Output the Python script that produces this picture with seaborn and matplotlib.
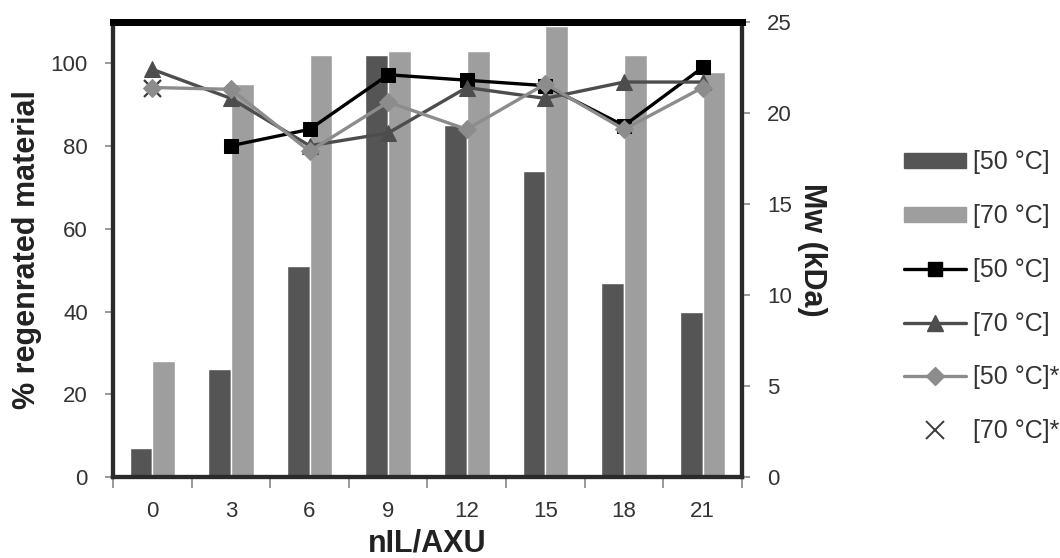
import numpy as np
import pandas as pd
import matplotlib
matplotlib.use("Agg")
import matplotlib.pyplot as plt
import seaborn as sns
from matplotlib.patches import Patch
from matplotlib.lines import Line2D

# === Data ===
nil = ["0", "3", "6", "9", "12", "15", "18", "21"]
regen_50 = [7, 26, 51, 102, 85, 74, 47, 40]         # % regenerated, 50 C
regen_70 = [28, 95, 102, 103, 103, 109, 102, 98]     # % regenerated, 70 C
mw_50 = [np.nan, 18.2, 19.1, 22.1, 21.8, 21.5, 19.3, 22.5]   # Mw kDa, 50 C
mw_70 = [22.4, 20.8, 18.2, 18.9, 21.4, 20.8, 21.7, 21.7]     # Mw kDa, 70 C
mw_50s = [21.4, 21.3, 17.9, 20.6, 19.1, 21.6, 19.1, 21.4]    # Mw kDa, 50 C*
mw_70s = [21.4]                                               # Mw kDa, 70 C* (only at 0)
labels = ["[50 °C]", "[70 °C]", "[50 °C]", "[70 °C]", "[50 °C]*", "[70 °C]*"]

dark = "#555555"
light = "#9e9e9e"
tri_col = "#4d4d4d"
dia_col = "#8c8c8c"
x_col = "#3a3a3a"
txt = "#333333"

sns.set_theme(style="white")
plt.rcParams["font.family"] = ["Liberation Sans", "DejaVu Sans"]

bars = pd.DataFrame({
    "nIL": nil * 2,
    "pct": regen_50 + regen_70,
    "temp": ["50"] * len(nil) + ["70"] * len(nil),
})
pos = np.arange(len(nil))

fig = plt.figure(figsize=(10.6, 5.58), dpi=100)
ax = fig.add_axes([0.1066, 0.1452, 0.5934, 0.8154])

sns.barplot(data=bars, x="nIL", y="pct", hue="temp", palette=[dark, light],
            width=0.58, gap=0, saturation=1, legend=False, ax=ax)
ax.set_xlim(-0.5, len(nil) - 0.5)
ax.set_ylim(0, 110)
ax.set_yticks(range(0, 101, 20))

ax2 = ax.twinx()
sns.lineplot(x=pos, y=mw_50, color="black", marker="s", markersize=10,
             markeredgecolor="black", linewidth=2.4, ax=ax2)
sns.lineplot(x=pos, y=mw_70, color=tri_col, marker="^", markersize=11,
             markeredgecolor=tri_col, linewidth=2.4, ax=ax2)
sns.lineplot(x=pos, y=mw_50s, color=dia_col, marker="D", markersize=9,
             markeredgecolor=dia_col, linewidth=2.4, ax=ax2)
sns.scatterplot(x=pos[:1], y=mw_70s, color=x_col, marker="x", s=150,
                linewidth=1.6, ax=ax2)
ax2.set_ylim(0, 25)
ax2.set_yticks(range(0, 26, 5))

# === Styling ===
for a in (ax, ax2):
    for side in ("left", "right", "bottom"):
        a.spines[side].set_color("#2a2a2a")
        a.spines[side].set_linewidth(3)
    a.spines["top"].set_color("black")
    a.spines["top"].set_linewidth(5)

ax.set_xticks(pos)
ax.set_xticklabels(nil)
ax.set_xticks(np.arange(-0.5, len(nil)), minor=True)
ax.tick_params(axis="x", which="major", length=0, labelsize=16, pad=17, colors=txt)
ax.tick_params(axis="x", which="minor", length=8, width=1.2, color="#888888",
               direction="out", bottom=True)
ax.tick_params(axis="y", length=6, width=1.2, color="#888888", direction="out", left=True,
               labelsize=16, labelcolor=txt, pad=12)
ax2.tick_params(axis="y", length=6, width=1.2, color="#888888", direction="out", right=True,
                labelsize=16, labelcolor=txt, pad=12)

ax.set_xlabel("nIL/AXU", fontsize=22, fontweight="bold", color="#222222")
ax.xaxis.set_label_coords(0.5, -0.114)
ax.set_ylabel("% regenrated material", fontsize=22, fontweight="bold", color="#222222")
ax.yaxis.set_label_coords(-0.113, 0.5)
ax2.set_ylabel("Mw (kDa)", fontsize=22, fontweight="bold", color="#222222",
               rotation=-90, va="bottom")
ax2.yaxis.set_label_coords(1.087, 0.5)

handles = [
    Patch(facecolor=dark, edgecolor=dark),
    Patch(facecolor=light, edgecolor=light),
    Line2D([], [], color="black", marker="s", markersize=10, linewidth=2.4),
    Line2D([], [], color=tri_col, marker="^", markersize=11, linewidth=2.4),
    Line2D([], [], color=dia_col, marker="D", markersize=9, linewidth=2.4),
    Line2D([], [], color=x_col, marker="x", markersize=13, markeredgewidth=1.4, linestyle="none"),
]
fig.legend(handles, labels, loc="center left", bbox_to_anchor=(0.832, 0.468),
           frameon=False, fontsize=18, handlelength=2.45, handleheight=0.55,
           labelspacing=1.19, handletextpad=0.3, labelcolor=txt)

fig.savefig("out.png", dpi=100)
